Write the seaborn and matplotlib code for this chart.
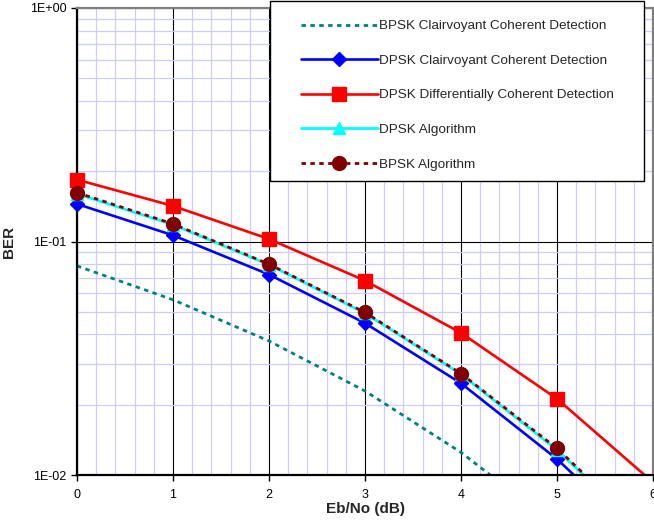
import matplotlib
matplotlib.use("Agg")
import matplotlib.pyplot as plt
import numpy as np
import pandas as pd
import seaborn as sns
from matplotlib.ticker import MultipleLocator, LogLocator, FixedLocator
from matplotlib.lines import Line2D
from matplotlib.patches import Rectangle

# values
ebno = [0, 1, 2, 3, 4, 5, 6]
bpsk_coherent = [0.0786, 0.0563, 0.0375, 0.0229, 0.0125, 0.0060, 0.0024]
dpsk_coherent = [0.1448, 0.1063, 0.0722, 0.0447, 0.0247, 0.0117, 0.0048]
dpsk_diff = [0.184, 0.142, 0.1025, 0.068, 0.0406, 0.0212, 0.0093]
dpsk_algo = [0.160, 0.118, 0.0795, 0.0493, 0.0270, 0.0128, 0.0052]
bpsk_algo = [0.162, 0.119, 0.080, 0.0497, 0.0272, 0.0130, 0.0053]

labels = ["BPSK Clairvoyant Coherent Detection",
          "DPSK Clairvoyant Coherent Detection",
          "DPSK Differentially Coherent Detection",
          "DPSK Algorithm",
          "BPSK Algorithm"]

sns.set_style("white")
plt.rcParams['font.family'] = ['Liberation Sans', 'DejaVu Sans']

df = pd.DataFrame({"ebno": ebno * 5,
                   "ber": bpsk_coherent + dpsk_coherent + dpsk_diff + dpsk_algo + bpsk_algo,
                   "series": sum([[l] * len(ebno) for l in labels], [])})

W, H = 654, 523
fig = plt.figure(figsize=(W / 100, H / 100), dpi=100)
ax = fig.add_axes([77 / W, 48 / H, (653 - 77) / W, (475 - 8) / H])

styles = {
    labels[0]: dict(color="#008080", ls=(0, (1.6, 1.6)), lw=2.0, marker=None, ms=0),
    labels[1]: dict(color="#0000FF", ls="-", lw=1.9, marker="D", ms=7),
    labels[2]: dict(color="#FF0000", ls="-", lw=1.9, marker="s", ms=10),
    labels[3]: dict(color="#00FFFF", ls="-", lw=2.0, marker="^", ms=8),
    labels[4]: dict(color="#800000", ls=(0, (1.6, 1.6)), lw=2.0, marker="o", ms=10),
}

handles = []
for lab in labels:
    st = styles[lab]
    sub = df[df["series"] == lab]
    sns.lineplot(data=sub, x="ebno", y="ber", ax=ax, color=st["color"],
                 linestyle=st["ls"], linewidth=st["lw"])
    if st["marker"]:
        vis = sub[sub["ber"] >= 1e-2]
        ax.plot(vis["ebno"], vis["ber"], linestyle="none", marker=st["marker"],
                markersize=st["ms"], color=st["color"], clip_on=False, zorder=3)
    handles.append(Line2D([], [], color=st["color"], linestyle=st["ls"], linewidth=st["lw"],
                          marker=st["marker"], markersize=st["ms"], label=lab))

ax.set_yscale("log")
ax.set_xlim(0, 6)
ax.set_ylim(1e-2, 1e0)

ax.xaxis.set_major_locator(MultipleLocator(1))
ax.xaxis.set_minor_locator(MultipleLocator(0.2))
ax.yaxis.set_major_locator(FixedLocator([1e-2, 1e-1, 1e0]))
ax.yaxis.set_minor_locator(LogLocator(base=10, subs=np.arange(2, 10)))
ax.set_yticklabels(["1E-02", "1E-01", "1E+00"])
ax.yaxis.set_minor_formatter(plt.NullFormatter())

ax.grid(which="minor", color="#CCCCFF", linewidth=0.9)
ax.grid(which="major", color="black", linewidth=0.8)
ax.set_axisbelow(True)

ax.tick_params(which="major", direction="out", length=4, width=1, labelsize=9,
               colors="black", left=True, bottom=True)
ax.tick_params(axis="x", pad=6)
ax.tick_params(which="minor", length=0)

for side in ["left", "bottom"]:
    ax.spines[side].set_color("black")
    ax.spines[side].set_linewidth(1.6)
for side in ["top", "right"]:
    ax.spines[side].set_color("#808080")
    ax.spines[side].set_linewidth(1.6)

ax.set_xlabel("Eb/No (dB)", fontsize=11, fontweight="bold", labelpad=1)
ax.set_ylabel("BER", fontsize=11, fontweight="bold", labelpad=10)

# legend box drawn over the plot, like the spreadsheet chart
box = Rectangle((270 / W, 1 - 181 / H), 374 / W, 180 / H, transform=fig.transFigure,
                facecolor="white", edgecolor="black", linewidth=1.0, zorder=1)
fig.patches.append(box)

leg = fig.legend(handles=handles, loc="upper left", bbox_to_anchor=(301 / W, 1 - 20 / H),
                 frameon=False, fontsize=9.7, handlelength=5.7, handletextpad=0.1,
                 labelspacing=1.64, borderpad=0, borderaxespad=0)
leg.set_zorder(2)

fig.savefig("out.png", dpi=100)
